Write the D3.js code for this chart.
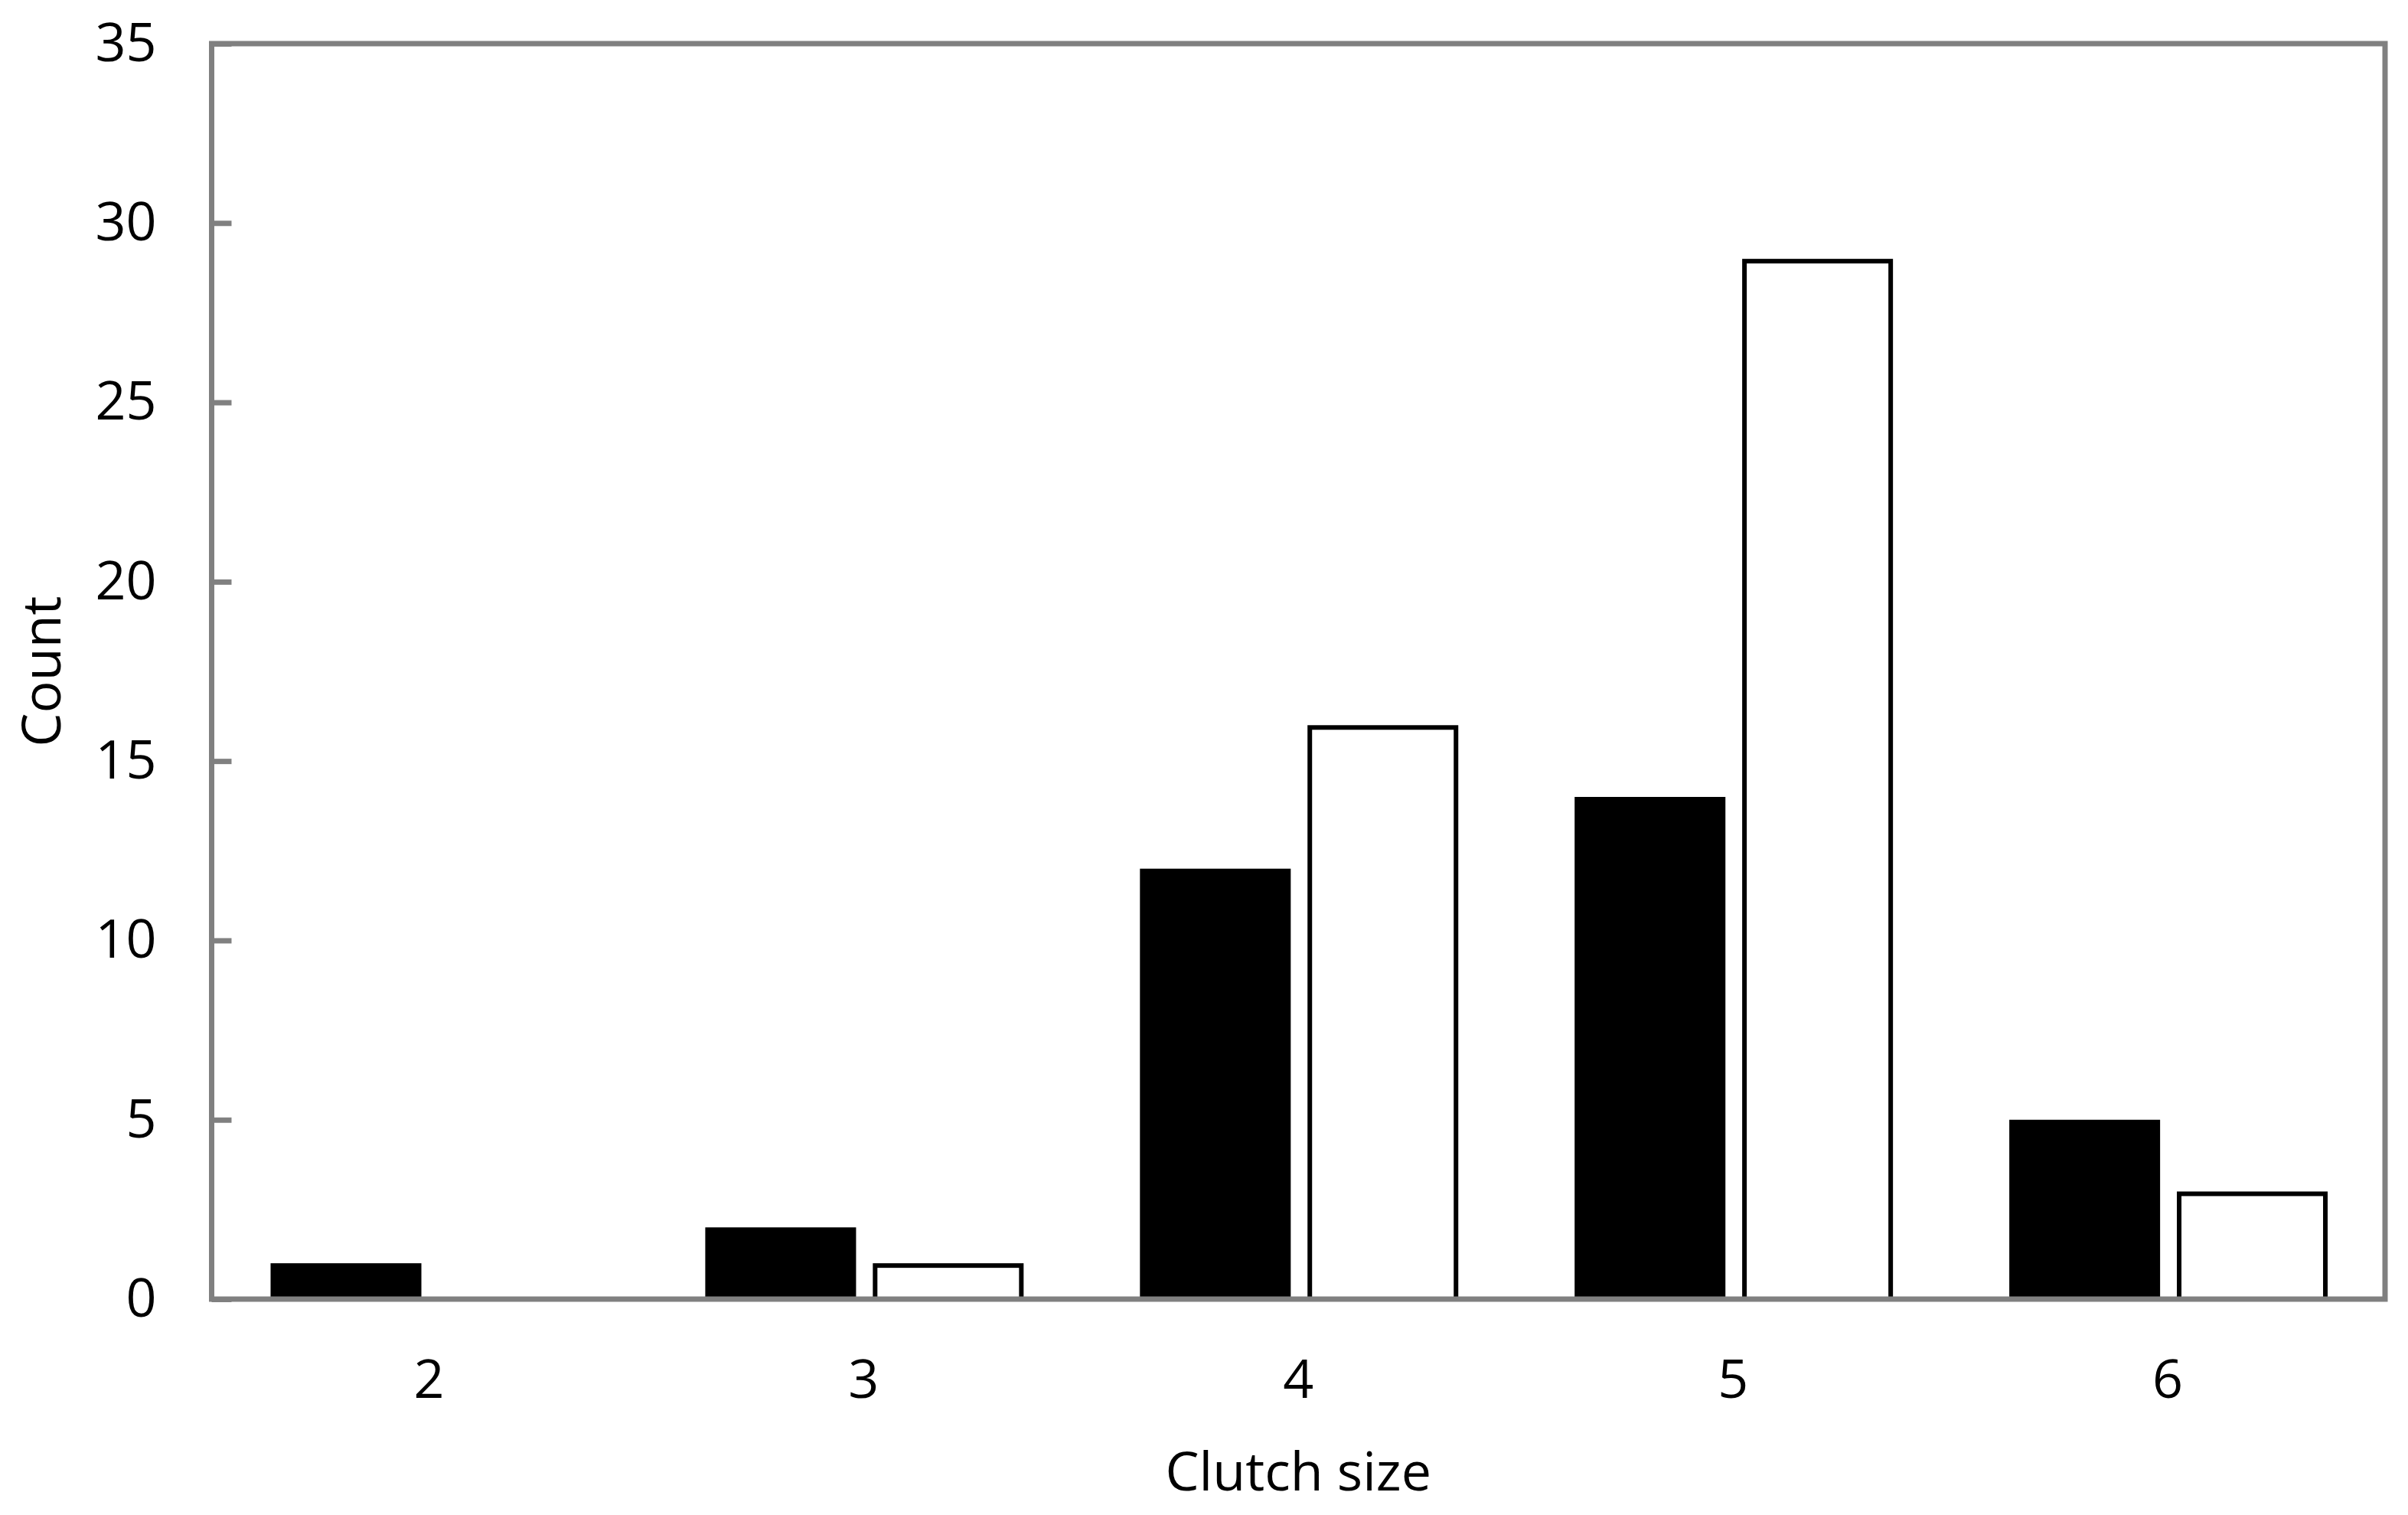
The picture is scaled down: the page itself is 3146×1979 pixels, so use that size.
<!DOCTYPE html>
<html>
<head>
<meta charset="utf-8">
<script src="https://cdn.jsdelivr.net/npm/d3@7"></script>
<style>
  html, body { margin: 0; padding: 0; background: #ffffff; }
  svg { display: block; }
  text { font-family: "Open Sans", "Noto Sans", sans-serif; fill: #000; }
</style>
</head>
<body>
<script>
const categories = ["2", "3", "4", "5", "6"];
const seriesNames = ["filled", "open"];
const filledValues = [1, 2, 12, 14, 5];
const openValues = [0, 1, 16, 29, 3];
const yTicks = [0, 5, 10, 15, 20, 25, 30, 35];
const xTitle = "Clutch size";
const yTitle = "Count";

const W = 3146, H = 1979;
const plotLeft = 276.5, plotRight = 3116, plotTop = 57, plotBottom = 1697;
const frameColor = "#808080";
const fontSize = 70;
const fontFam = "\"Open Sans\", \"Noto Sans\", sans-serif";

const svg = d3.select("body").append("svg")
  .attr("width", W).attr("height", H)
  .attr("viewBox", `0 0 ${W} ${H}`);

svg.append("rect").attr("width", W).attr("height", H).attr("fill", "#fff");

const x = d3.scaleBand().domain(categories).range([plotLeft, plotRight]).padding(0);
const bw = x.bandwidth();
const xs = d3.scaleBand().domain(seriesNames)
  .range([bw * 0.1356, bw * 0.8680]).paddingInner(0.1).paddingOuter(0);
const y = d3.scaleLinear().domain([0, 35]).range([plotBottom, plotTop]);

const data = categories.map((c, i) => ({ cat: c, filled: filledValues[i], open: openValues[i] }));

const groups = svg.append("g").selectAll("g").data(data).join("g")
  .attr("transform", d => `translate(${x(d.cat)},0)`);

// filled (black) bars
groups.filter(d => d.filled > 0).append("rect")
  .attr("x", xs("filled"))
  .attr("width", xs.bandwidth())
  .attr("y", d => y(d.filled))
  .attr("height", d => y(0) - y(d.filled))
  .attr("fill", "#000");

// open (white, outlined) bars
const sw = 6;
groups.filter(d => d.open > 0).append("rect")
  .attr("x", xs("open") + sw / 2)
  .attr("width", xs.bandwidth() - sw)
  .attr("y", d => y(d.open) + sw / 2)
  .attr("height", d => y(0) - y(d.open) - sw / 2)
  .attr("fill", "#fff")
  .attr("stroke", "#000")
  .attr("stroke-width", sw);

// Y axis (ticks inward)
const yAxis = d3.axisLeft(y).tickValues(yTicks).tickSizeInner(-26).tickSizeOuter(0).tickPadding(72);
const gy = svg.append("g").attr("transform", `translate(${plotLeft},0)`).call(yAxis);
gy.select(".domain").remove();
gy.selectAll(".tick line").attr("stroke", frameColor).attr("stroke-width", 7);
gy.selectAll(".tick text").attr("font-size", fontSize).attr("font-family", fontFam).attr("fill", "#000");

// X axis labels
const xAxis = d3.axisBottom(x).tickSize(0).tickPadding(79);
const gx = svg.append("g").attr("transform", `translate(0,${plotBottom})`).call(xAxis);
gx.select(".domain").remove();
gx.selectAll(".tick text").attr("font-size", fontSize).attr("font-family", fontFam).attr("fill", "#000");

// Frame
svg.append("rect")
  .attr("x", plotLeft).attr("y", plotTop)
  .attr("width", plotRight - plotLeft).attr("height", plotBottom - plotTop)
  .attr("fill", "none").attr("stroke", frameColor).attr("stroke-width", 7);

// Titles
svg.append("text")
  .attr("x", (plotLeft + plotRight) / 2).attr("y", 1922)
  .attr("dy", "0.35em")
  .attr("text-anchor", "middle")
  .attr("font-size", fontSize)
  .attr("font-family", fontFam)
  .text(xTitle);

svg.append("text")
  .attr("transform", `translate(54,${(plotTop + plotBottom) / 2}) rotate(-90)`)
  .attr("dy", "0.35em")
  .attr("text-anchor", "middle")
  .attr("font-size", fontSize)
  .attr("font-family", fontFam)
  .text(yTitle);
</script>
</body>
</html>
